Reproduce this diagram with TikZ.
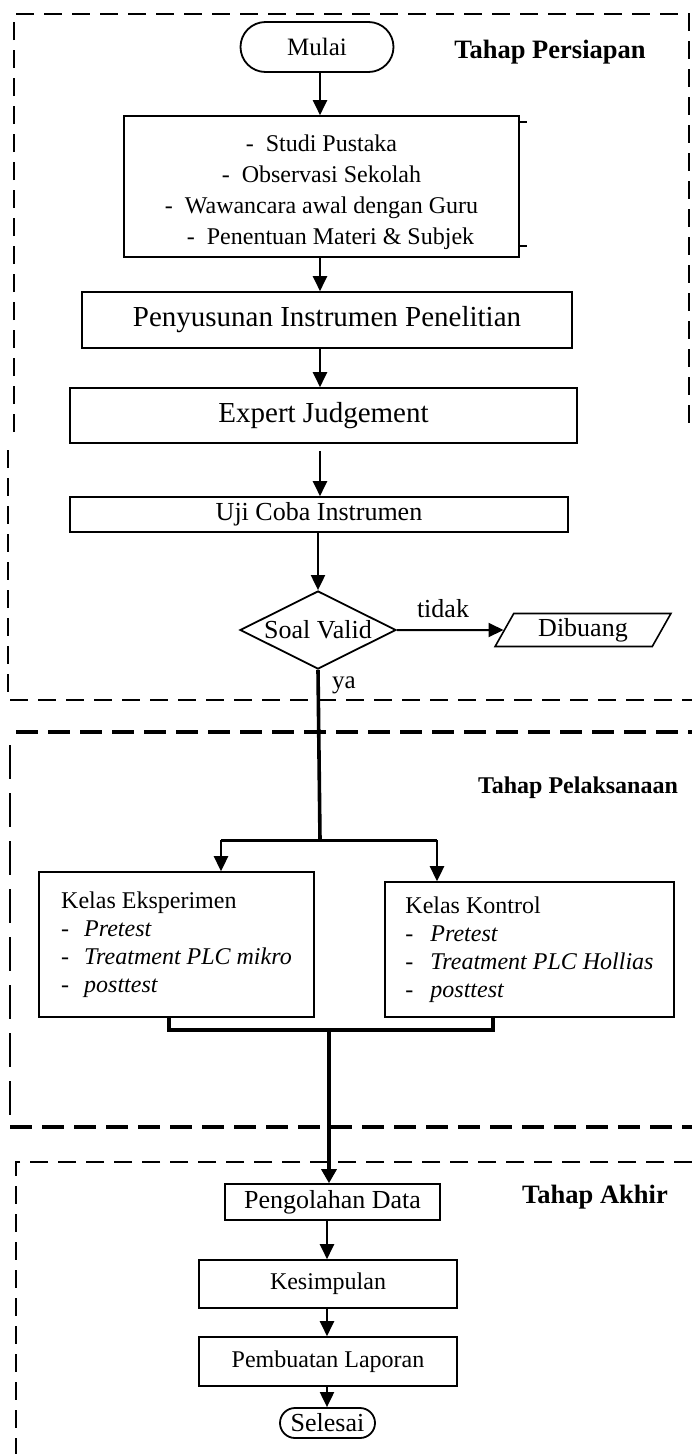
\documentclass[tikz,border=0pt]{standalone}
\usepackage{fontspec}
\setmainfont{Liberation Serif}
\usetikzlibrary{shapes.geometric,arrows.meta}
\newcommand{\fsz}[2]{\fontsize{#1pt}{#2pt}\selectfont}
\begin{document}
\begin{tikzpicture}[x=1pt,y=-1pt,
  box/.style={draw, line width=1.6pt, rectangle, inner sep=0pt, align=center, font=\fsz{25}{30}},
  term/.style={draw, line width=1.8pt, rectangle, rounded corners=#1, inner sep=0pt, font=\fsz{25}{30}},
  arr/.style={line width=2pt, -{Triangle[width=14pt,length=15pt]}},
  fat/.style={line width=3.6pt},
  fatarr/.style={line width=3.2pt, -{Triangle[width=15pt,length=14pt]}},
  dashA/.style={line width=1.6pt, dash pattern=on 18pt off 10pt},
  dashB/.style={line width=4pt, dash pattern=on 22pt off 10pt},
  dashC/.style={line width=1.6pt, dash pattern=on 34pt off 14pt},
  lbl/.style={inner sep=0pt, font=\fsz{25}{30}},
  head/.style={inner sep=0pt, font={\fsz{26.5}{30}\bfseries}}
]
\useasboundingbox (0,0) rectangle (692,1454);
\fill[white] (0,0) rectangle (692,1454);

% phase frames
\draw[dashA] (14,432) -- (14,14) -- (689,14) -- (689,432);
\draw[dashA] (8,450) -- (8,700) -- (692,700);
\draw[dashB] (16,732) -- (692,732);
\draw[dashC] (10,745) -- (10,1127);
\draw[dashB] (10,1127) -- (692,1127);
\draw[dashA] (692,1162) -- (16,1162) -- (16,1454);

% phase headings
\node[head] (tp) at (550,52) {Tahap Persiapan};
\node[head, font={\fsz{24}{30}\bfseries}] (tpl) at (578,788) {Tahap Pelaksanaan};
\node[head] (ta) at (595,1197) {Tahap Akhir};

% nodes
\node[term=25pt, minimum width=153pt, minimum height=50pt] (mulai) at (317,47) {Mulai};
\node[box, minimum width=395pt, minimum height=141pt] (b1) at (321.5,186.5) {};
\node[inner sep=0pt, align=center, font=\fsz{24}{31}] (b1t) at (321.5,192)
  {-\hspace{12pt}Studi Pustaka\\
   -\hspace{12pt}Observasi Sekolah\\
   -\hspace{12pt}Wawancara awal dengan Guru\\
   \hspace*{18pt}-\hspace{12pt}Penentuan Materi \& Subjek};
\draw[line width=1.6pt] (b1.north east) ++(0,7) -- ++(7,0);
\draw[line width=1.6pt] (b1.south east) ++(0,-12) -- ++(7,0);
\node[box, minimum width=490pt, minimum height=56pt, font=\fsz{29}{34}] (b2) at (327,320) {Penyusunan Instrumen Penelitian};
\node[box, minimum width=507pt, minimum height=55pt, font=\fsz{29}{34}] (b3) at (323.5,415.5) {Expert Judgement};
\node[box, minimum width=498pt, minimum height=35pt, font=\fsz{26}{30}] (b4) at (319,514.5) {Uji Coba Instrumen};
\node[draw, diamond, line width=1.8pt, aspect=2, inner sep=0pt, minimum width=156pt, minimum height=78pt, font=\fsz{26}{30}] (dia) at (318,630) {Soal Valid};
\node[draw, trapezium, trapezium left angle=63, trapezium right angle=117, trapezium stretches=true,
      line width=1.6pt, inner sep=0pt, minimum width=176pt, minimum height=33pt, font=\fsz{26}{30}] (dib) at (583,630) {Dibuang};
\node[lbl, font=\fsz{26}{30}] (tidak) at (443,609) {tidak};
\node[lbl] (ya) at (344,685) {ya};

\node[box, minimum width=275pt, minimum height=145pt, align=left, font=\fsz{24}{28}] (kE) at (176.5,944.5)
  {Kelas Eksperimen\\
   \makebox[23pt][l]{-}\textit{Pretest}\\
   \makebox[23pt][l]{-}\textit{Treatment PLC mikro}\\
   \makebox[23pt][l]{-}\textit{posttest}};
\node[box, minimum width=289pt, minimum height=135pt, align=left, font=\fsz{24}{28}] (kK) at (529.5,949.5)
  {Kelas Kontrol\\
   \makebox[25pt][l]{-}\textit{Pretest}\\
   \makebox[25pt][l]{-}\textit{Treatment PLC Hollias}\\
   \makebox[25pt][l]{-}\textit{posttest}};

\node[box, minimum width=215pt, minimum height=36pt, font=\fsz{26}{30}] (pd) at (332.5,1202) {Pengolahan Data};
\node[box, minimum width=258pt, minimum height=48pt, font=\fsz{24}{30}] (kes) at (328,1284) {Kesimpulan};
\node[box, minimum width=258pt, minimum height=49pt, font=\fsz{24}{30}] (pl) at (328,1361.5) {Pembuatan Laporan};
\node[term=15pt, minimum width=95pt, minimum height=30pt, font=\fsz{26}{30}] (sel) at (327.5,1423) {Selesai};

% helper coordinates
\coordinate (mx) at (320,0);
\coordinate (sl) at (221,840);
\coordinate (sm) at (320,840);
\coordinate (sr) at (437,840);
\coordinate (ml) at (169,1030);
\coordinate (mc) at (329,1030);
\coordinate (mr) at (493,1030);
\coordinate (lx) at (327,0);

% connectors, preparation
\draw[arr] (mulai.south -| mx) -- (b1.north -| mx);
\draw[arr] (b1.south -| mx) -- (b2.north -| mx);
\draw[arr] (b2.south -| mx) -- (b3.north -| mx);
\draw[arr] ([yshift=-7pt]b3.south -| mx) -- (b4.north -| mx);
\draw[arr] (b4.south -| dia.north) -- (dia.north);
\draw[arr] (dia.east) -- (dib.west);

% implementation
\draw[fat] (dia.south) -- (sm);
\draw[line width=3pt] (sl) -- (sr);
\draw[arr, line width=2.6pt] (sl) -- (sl |- kE.north);
\draw[arr, line width=2.6pt] (sr) -- (sr |- kK.north);
\draw[fat] (ml |- kE.south) -- (ml) -- (mr) -- (mr |- kK.south);
\draw[fatarr] (mc) -- (pd.north -| mc);

% final
\draw[arr] (pd.south -| lx) -- (kes.north -| lx);
\draw[arr] (kes.south -| lx) -- (pl.north -| lx);
\draw[arr] (pl.south -| lx) -- (sel.north -| lx);
\end{tikzpicture}
\end{document}
